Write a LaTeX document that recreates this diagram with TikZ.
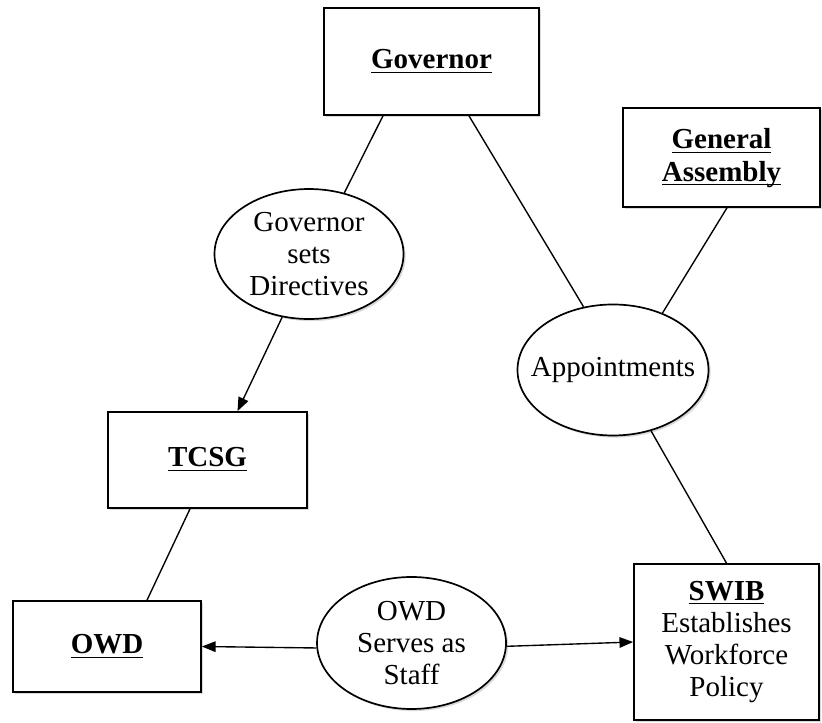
\documentclass[tikz,border=0pt]{standalone}
\usepackage{amsmath}
\usepackage{fontspec}
\setmainfont{Liberation Serif}
\usetikzlibrary{arrows.meta, positioning, shapes.geometric, shadows}

\newcommand{\headline}[1]{\underline{\smash[b]{\textbf{#1}}}}

\begin{document}
\begin{tikzpicture}[
                office/.style={rectangle, draw=black, line width=1.6pt, fill=white, align=center, inner sep=0pt, font=\fontsize{27.5}{30.5}\selectfont, drop shadow={shadow xshift=2pt, shadow yshift=-2pt, opacity=0.3}},
                action/.style={ellipse, draw=black, line width=1.6pt, fill=white, align=center, inner sep=0pt, font=\fontsize{27.5}{30.5}\selectfont, drop shadow={shadow xshift=2pt, shadow yshift=-2pt, opacity=0.3}},
                link/.style={line width=1.3pt},
                order/.style={-{Triangle[length=13pt, width=10pt]}, line width=1.3pt}
                ]
                \useasboundingbox (0,0) rectangle (27.4,-24.067);

                % Offices
                \node[office, minimum width=7.167cm, minimum height=3.567cm] (gov) at (14.383,-2.05) {\headline{Governor}};
                \node[office, minimum width=6.567cm, minimum height=3.3cm] (ga) at (24.05,-5.25) {\headline{General}\\\headline{Assembly}};
                \node[office, minimum width=6.633cm, minimum height=3.2cm] (tcsg) at (6.917,-15.333) {\headline{TCSG}};
                \node[office, minimum width=6.267cm, minimum height=3.033cm] (owd) at (3.567,-21.55) {\headline{OWD}};
                \node[office, minimum width=6.167cm, minimum height=5.2cm] (swib) at (24.217,-21.4) {\headline{SWIB}\\Establishes\\Workforce\\Policy};

                % Relations
                \node[action, minimum width=6.3cm, minimum height=4.333cm] (directives) at (10.3,-8.467) {Governor\\sets\\Directives};
                \node[action, minimum width=6.367cm, minimum height=4.367cm, inner xsep=-25pt] (appoint) at (20.433,-12.333) {Appointments};
                \node[action, minimum width=6.3cm, minimum height=4.4cm] (staff) at (13.717,-21.433) {OWD\\Serves as\\Staff};

                % Connectors
                \draw[link] ([xshift=-1.617cm]gov.south) -- (directives.60);
                \draw[link] ([xshift=1.25cm]gov.south) -- (appoint.115);
                \draw[link] ([xshift=0.183cm]ga.south) -- (appoint.49);
                \draw[link] (appoint.-58) -- (swib.north);
                \draw[link] ([xshift=-0.583cm]tcsg.south) -- ([xshift=1.333cm]owd.north);

                % Arrows
                \draw[order] (directives.247) -- ([xshift=1cm]tcsg.north);
                \draw[order] (staff.183) -- (owd.east);
                \draw[order] (staff.358) -- (swib.west);

\end{tikzpicture}
\end{document}
